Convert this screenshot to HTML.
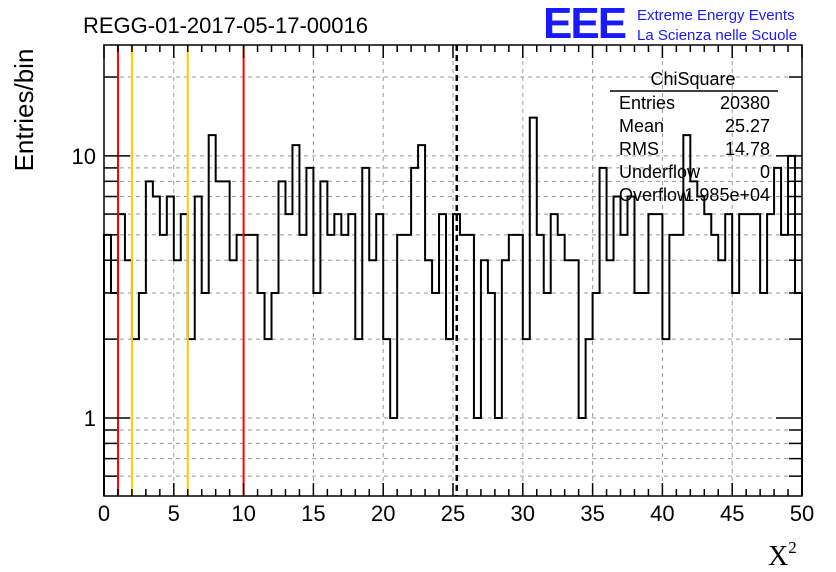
<!DOCTYPE html>
<html><head><meta charset="utf-8"><style>
body{margin:0;background:#fff}
svg{display:block;font-family:"Liberation Sans",sans-serif}
</style></head><body>
<svg id="c" width="836" height="572">
<rect x="0" y="0" width="836" height="572" fill="#fff"/>
<text x="83" y="33" font-size="22">REGG-01-2017-05-17-00016</text>
<text x="543" y="38" font-size="44" font-weight="bold" fill="#1a1aff" letter-spacing="-2">EEE</text>
<text x="637" y="20" font-size="15" fill="#1a1aff">Extreme Energy Events</text>
<text x="637" y="40" font-size="15" fill="#1a1aff">La Scienza nelle Scuole</text>
<g id="grid"></g>
<g id="marks"></g>
<g id="axes"></g>
<g font-size="18">
<text x="693" y="85" text-anchor="middle">ChiSquare</text>
<line x1="610" y1="91" x2="778" y2="91" stroke="#000" stroke-width="1.5"/>
<text x="619" y="109">Entries</text>
<text x="770" y="109" text-anchor="end">20380</text>
<text x="619" y="132">Mean</text>
<text x="770" y="132" text-anchor="end">25.27</text>
<text x="619" y="155">RMS</text>
<text x="770" y="155" text-anchor="end">14.78</text>
<text x="619" y="178">Underflow</text>
<text x="770" y="178" text-anchor="end">0</text>
<text x="619" y="201">Overflow</text>
<text x="770" y="201" text-anchor="end">1.985e+04</text>
</g>
<text transform="translate(33,110) rotate(-90)" text-anchor="middle" font-size="26">Entries/bin</text>
<text x="768" y="565" font-size="28" font-family="Liberation Serif,serif">X<tspan font-size="17" dy="-12">2</tspan></text>
</svg>
<script>
const counts=[5,3,6,4,2,3,8,7,5,7,4,6,2,7,3,12,8,8,4,5,5,5,3,2,3,8,6,11,5,9,3,8,5,6,5,6,2,9,4,6,2,1,5,5,9,11,4,3,6,2,6,5,5,1,4,3,1,4,5,5,2,14,5,3,6,5,4,4,1,2,3,9,4,7,5,7,3,3,6,6,2,5,5,12,8,7,6,5,4,6,3,6,6,6,3,6,9,5,10,3];
const xTicks=[0,5,10,15,20,25,30,35,40,45,50];
const yTickLabels=[1,10];
const redLines=[1,10];
const orangeLines=[2,6];
const meanLine=[25.27];
const xMin=0,xMax=50,yMin=0.504,yMax=26.5;
const L=104,R=802,T=45,B=496;
const X=v=>L+(v-xMin)/(xMax-xMin)*(R-L);
const Y=v=>B-(Math.log10(v)-Math.log10(yMin))/(Math.log10(yMax)-Math.log10(yMin))*(B-T);
const NS="http://www.w3.org/2000/svg";
function mk(p,t,a){const e=document.createElementNS(NS,t);for(const k in a)e.setAttribute(k,a[k]);p.appendChild(e);return e;}
const grid=document.getElementById('grid'),marks=document.getElementById('marks'),axes=document.getElementById('axes');
xTicks.slice(1,-1).forEach(v=>{const l=mk(grid,'line',{x1:X(v),x2:X(v),y1:T,y2:B,stroke:'#999','stroke-dasharray':'4,4'});

});
const yGrid=[0.6,0.7,0.8,0.9,1,2,3,4,5,6,7,8,9,10,20];
yGrid.forEach(v=>{const l=mk(grid,'line',{x1:L,x2:R,y1:Y(v),y2:Y(v),stroke:'#999','stroke-dasharray':'4,4'});

});
const bw=(xMax-xMin)/counts.length;
let d='M'+X(0)+','+B;
counts.forEach((c,i)=>{const y=Y(Math.max(c,yMin));d+=' L'+X(i*bw)+','+y+' L'+X((i+1)*bw)+','+y;});
d+=' L'+X(xMax)+','+B;
const h=mk(marks,'path',{d:d,fill:'none',stroke:'#000','stroke-width':2});


redLines.forEach(v=>{const l=mk(marks,'line',{x1:X(v),x2:X(v),y1:T,y2:B,stroke:'#f00','stroke-width':2});

});
orangeLines.forEach(v=>{const l=mk(marks,'line',{x1:X(v),x2:X(v),y1:T,y2:B,stroke:'#fc0','stroke-width':2});

});
meanLine.forEach(v=>{const l=mk(marks,'line',{x1:X(v),x2:X(v),y1:T,y2:B,stroke:'#000','stroke-width':2.5,'stroke-dasharray':'6,4'});

});
const f=mk(axes,'rect',{x:L,y:T,width:R-L,height:B-T,fill:'none',stroke:'#000','stroke-width':1.5});


for(let v=xMin;v<=xMax;v+=1){const maj=v%5===0;const len=maj?13:7;
mk(axes,'line',{x1:X(v),x2:X(v),y1:B,y2:B-len,stroke:'#000','stroke-width':1.5});
mk(axes,'line',{x1:X(v),x2:X(v),y1:T,y2:T+len,stroke:'#000','stroke-width':1.5});}
xTicks.forEach(v=>{const t=mk(axes,'text',{x:X(v),y:521,'text-anchor':'middle','font-size':22});t.textContent=v;

});
yGrid.forEach(v=>{const maj=(v===1||v===10);const len=maj?26:13;
mk(axes,'line',{x1:L,x2:L+len,y1:Y(v),y2:Y(v),stroke:'#000','stroke-width':1.5});
mk(axes,'line',{x1:R,x2:R-len,y1:Y(v),y2:Y(v),stroke:'#000','stroke-width':1.5});});
yTickLabels.forEach(v=>{const t=mk(axes,'text',{x:96,y:Y(v)+8,'text-anchor':'end','font-size':22});t.textContent=v;

});
</script>
</body></html>
